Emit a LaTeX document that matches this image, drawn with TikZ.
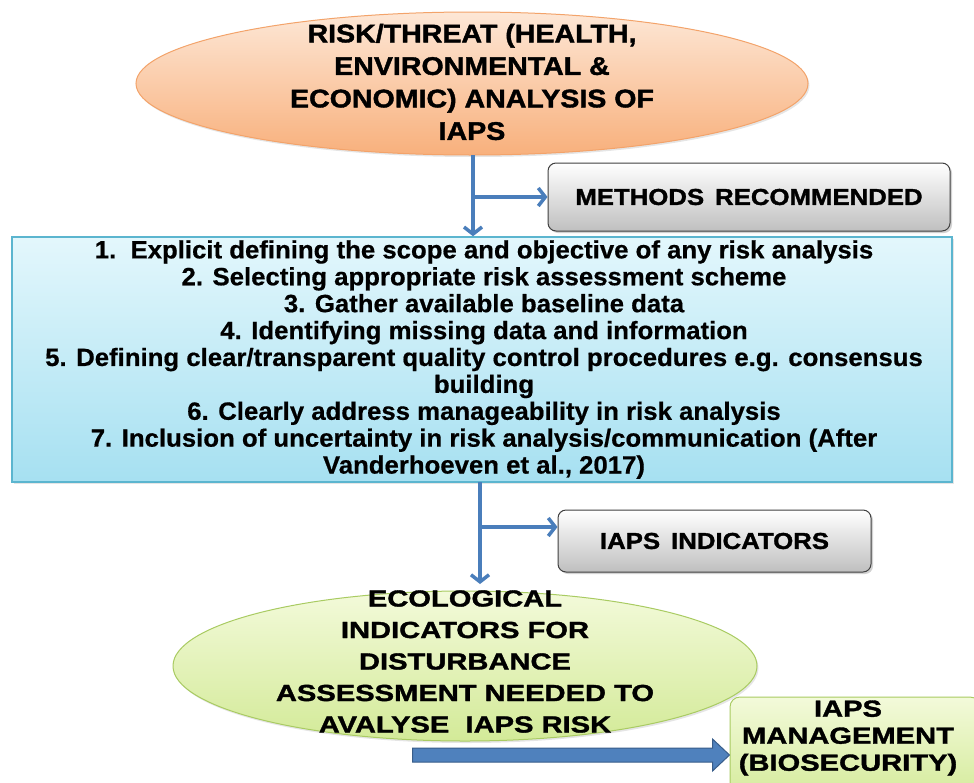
\documentclass[tikz,border=0pt]{standalone}
\usepackage{fontspec}
\setmainfont{Liberation Sans}
\newfontfamily\heavy[FakeBold=1.5,FakeStretch=1.12]{Liberation Sans Bold}
\newfontfamily\heavywide[FakeBold=1.5,FakeStretch=1.25]{Liberation Sans Bold}
\newfontfamily\listfont[FakeBold=0.6,FakeStretch=1.03]{Liberation Sans Bold}
\usetikzlibrary{shapes.geometric,arrows.meta,shadows,calc}
\definecolor{arrowblue}{HTML}{4A7EBB}
\definecolor{blockblue}{HTML}{4F81BD}
\definecolor{blockedge}{HTML}{385D8A}
\definecolor{orangetop}{HTML}{FDE7D6}
\definecolor{orangebot}{HTML}{F8B07C}
\definecolor{orangeedge}{HTML}{F3A36A}
\definecolor{cyantop}{HTML}{E3F7FC}
\definecolor{cyanbot}{HTML}{A6E0F1}
\definecolor{cyanedge}{HTML}{5BB5CF}
\definecolor{greentop}{HTML}{F3FADA}
\definecolor{greenbot}{HTML}{D3EA98}
\definecolor{greenedge}{HTML}{A9CB62}
\tikzset{
  flow/.style={draw=arrowblue, line width=3.5pt, -{Straight Barb[length=7pt,width=18pt]}},
  graybox/.style={draw=black!75, line width=1pt, rounded corners=8pt, top color=white, bottom color=black!25,
    drop shadow={opacity=0.35, shadow xshift=2pt, shadow yshift=-2pt}, inner sep=0pt},
  heavytext/.style={font=\heavy\fontsize{23}{28}\selectfont, text=black},
  bigtext/.style={font=\heavy\fontsize{25.5}{32.5}\selectfont, align=center, text=black, inner sep=0pt},
  widetext/.style={font=\heavywide\fontsize{23.3}{31.5}\selectfont, align=center, text=black, inner sep=0pt},
}
\begin{document}
\begin{tikzpicture}[x=1pt,y=-1pt]
\useasboundingbox (0,0) rectangle (974,782);
\fill[white] (0,0) rectangle (974,782);

% top ellipse
\node[ellipse, minimum width=672pt, minimum height=143pt, inner sep=0pt,
      top color=orangetop, bottom color=orangebot, draw=orangeedge, line width=1pt,
      drop shadow={opacity=0.2, shadow xshift=1.5pt, shadow yshift=-2pt}] (risk) at (472,83.5) {};
\node[bigtext] (risktext) at (472,82) {RISK/THREAT (HEALTH,\\ENVIRONMENTAL \&\\ECONOMIC) ANALYSIS OF\\IAPS};

% methods box
\node[graybox, minimum width=402pt, minimum height=68pt, heavytext] (meth) at (749,197) {METHODS\, RECOMMENDED};

% cyan box
\node[draw=cyanedge, line width=1.5pt, top color=cyantop, bottom color=cyanbot,
      minimum width=940pt, minimum height=245pt, inner sep=0pt,
      drop shadow={opacity=0.2, shadow xshift=1.5pt, shadow yshift=-2pt}] (steps) at (482,359.5) {};
\node[font=\listfont\fontsize{25}{26.9}\selectfont, align=center, inner sep=0pt] (stepstext) at (484,359.5)
 {1.\ \ Explicit defining the scope and objective of any risk analysis\\
  2. Selecting appropriate risk assessment scheme\\
  3. Gather available baseline data\\
  4. Identifying missing data and information\\
  5. Defining clear/transparent quality control procedures e.g. consensus\\
  building\\
  6. Clearly address manageability in risk analysis\\
  7. Inclusion of uncertainty in risk analysis/communication (After\\
  Vanderhoeven et al., 2017)};

% indicators box
\node[graybox, minimum width=313pt, minimum height=62pt, heavytext] (ind) at (714.5,541) {IAPS\, INDICATORS};

% green ellipse
\node[ellipse, minimum width=584pt, minimum height=150pt, inner sep=0pt,
      top color=greentop, bottom color=greenbot, draw=greenedge, line width=1pt,
      drop shadow={opacity=0.2, shadow xshift=1.5pt, shadow yshift=-2pt}] (eco) at (465,666) {};
\node[widetext] (ecotext) at (465,661.5)
 {ECOLOGICAL\\INDICATORS FOR\\DISTURBANCE\\ASSESSMENT NEEDED TO\\AVALYSE\ \ IAPS RISK};

% management box
\node[draw=greenedge, line width=1pt, rounded corners=10pt, top color=greentop, bottom color=greenbot,
      minimum width=250pt, minimum height=106pt, inner sep=0pt] (mgmt) at (855,750) {};
\node[widetext, font=\heavywide\fontsize{23.3}{27}\selectfont] (mgmttext) at (848,738)
 {IAPS\\MANAGEMENT\\(BIOSECURITY)};

% connectors
\coordinate (t1) at (473,155);
\draw[flow] (t1) -- (t1 |- steps.north);
\draw[flow] (t1 |- meth.west) -- (meth.west);

\coordinate (t2) at (480,482);
\coordinate (t2end) at (480,584);
\draw[flow] (t2) -- (t2end);
\draw[flow] ($(t2 |- ind.west)+(0,-14)$) -- ($(ind.west)+(0,-14)$);

% block arrow
\coordinate (tip) at ($(mgmt.west)+(0,5)$);
\draw[fill=blockblue, draw=blockedge, line width=1pt]
  ($(tip)+(-317,-7)$) -- ($(tip)+(-17,-7)$) -- ($(tip)+(-17,-16)$) --
  (tip) -- ($(tip)+(-17,16)$) -- ($(tip)+(-17,7)$) -- ($(tip)+(-317,7)$) -- cycle;
\end{tikzpicture}
\end{document}
